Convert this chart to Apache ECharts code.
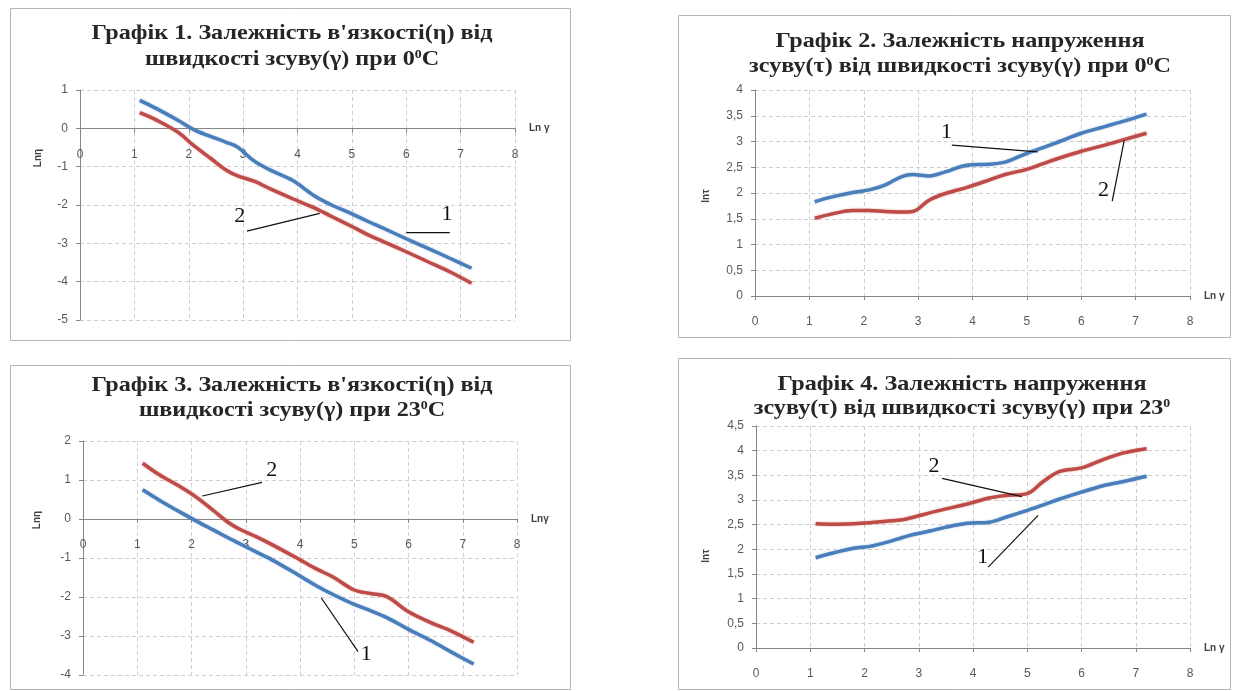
<!DOCTYPE html>
<html><head><meta charset="utf-8">
<script src="https://cdn.jsdelivr.net/npm/echarts@6/dist/echarts.min.js"></script>
<style>html,body{margin:0;padding:0;background:#fff}#c{width:1237px;height:691px}</style>
</head><body><div id="c"></div>
<script>
// ---- data (Ln γ on x) ----
const lnGamma = [1.1,1.4,1.8,2.1,2.4,2.7,2.9,3.2,3.5,3.9,4.3,4.6,5.0,5.3,5.6,6.0,6.4,6.8,7.2];
// Графік 1: Lnη at 0°C
const eta0_1 = [0.73,0.52,0.21,-0.04,-0.21,-0.37,-0.49,-0.85,-1.09,-1.35,-1.75,-1.98,-2.23,-2.43,-2.62,-2.88,-3.13,-3.39,-3.65];
const eta0_2 = [0.41,0.22,-0.10,-0.46,-0.78,-1.10,-1.24,-1.38,-1.58,-1.83,-2.07,-2.28,-2.56,-2.78,-2.97,-3.22,-3.48,-3.74,-4.04];
// Графік 2: lnτ at 0°C
const tau0_1 = [1.83,1.92,2.01,2.06,2.16,2.32,2.36,2.33,2.41,2.54,2.56,2.60,2.77,2.88,3.00,3.16,3.28,3.40,3.53];
const tau0_2 = [1.51,1.59,1.66,1.66,1.64,1.63,1.64,1.86,1.99,2.11,2.25,2.36,2.46,2.57,2.68,2.81,2.92,3.04,3.16];
// Графік 3: Lnη at 23°C
const eta23_1 = [0.75,0.49,0.17,-0.06,-0.28,-0.50,-0.64,-0.85,-1.06,-1.38,-1.71,-1.93,-2.19,-2.35,-2.53,-2.83,-3.11,-3.42,-3.72];
const eta23_2 = [1.43,1.14,0.82,0.55,0.22,-0.11,-0.27,-0.46,-0.67,-0.97,-1.28,-1.48,-1.82,-1.91,-1.99,-2.38,-2.65,-2.88,-3.16];
// Графік 4: lnτ at 23°C
const tau23_1 = [1.83,1.92,2.02,2.06,2.14,2.24,2.30,2.37,2.45,2.53,2.55,2.65,2.79,2.90,3.02,3.16,3.29,3.38,3.48];
const tau23_2 = [2.52,2.51,2.52,2.54,2.57,2.60,2.65,2.74,2.82,2.92,3.04,3.09,3.13,3.38,3.58,3.65,3.82,3.96,4.04];

const titles = [
  ["Графік 1. Залежність в'язкості(η) від", "швидкості зсуву(γ) при 0{s|0}C"],
  ["Графік 2. Залежність напруження", "зсуву(τ) від швидкості зсуву(γ) при 0{s|0}C"],
  ["Графік 3. Залежність в'язкості(η) від", "швидкості зсуву(γ) при 23{s|0}C"],
  ["Графік 4. Залежність напруження", "зсуву(τ) від швидкості зсуву(γ) при 23{s|0}"]
];
const xNames = ["Ln γ", "Ln γ", "Lnγ", "Ln γ"];
const yNames = ["Lnη", "lnτ", "Lnη", "lnτ"];
const yRanges = [[-5,1,1],[0,4,0.5],[-4,2,1],[0,4.5,0.5]];
const seriesSets = [[eta0_1, eta0_2],[tau0_1, tau0_2],[eta23_1, eta23_2],[tau23_1, tau23_2]];
// annotation leaders (data coords): label, label pos, line from, line to
const notes = [
  [["2",[2.94,-2.30],[3.07,-2.68],[4.41,-2.22]], ["1",[6.75,-2.25],[6.0,-2.72],[6.8,-2.72]]],
  [["1",[3.52,3.18],[3.62,2.93],[5.2,2.80]], ["2",[6.41,2.05],[6.57,1.84],[6.79,3.02]]],
  [["2",[3.48,1.26],[2.2,0.59],[3.3,0.94]], ["1",[5.22,-3.46],[4.39,-2.02],[5.07,-3.40]]],
  [["2",[3.28,3.68],[3.43,3.44],[4.9,3.07]], ["1",[4.18,1.84],[4.28,1.64],[5.2,2.69]]]
];

// ---- layout ----
const grids = [
  {left:80, top:90, width:435, height:230},
  {left:755, top:90, width:435, height:206},
  {left:83, top:441, width:434, height:234},
  {left:756, top:426, width:434, height:222}
];
const boxes = [[10,8,560,332],[678,15,552,322],[10,365,560,324],[678,358,552,331]];
const titlePos = [[292,34,60],[960,42,67],[292,386,411],[962,385,409]];
const yNamePos = [[38,158],[706,196],[37,520],[706,556]];
const BLUE = '#4A7EBB', RED = '#BE4B48';
const fmt = v => String(v).replace('.', ',');

const chart = echarts.init(document.getElementById('c'), null, {renderer:'canvas'});
const xAxis = [], yAxis = [], series = [];
grids.forEach((g, i) => {
  const [ymin, ymax] = yRanges[i];
  const zeroOffset = (ymin < 0 && ymax > 0) ? -g.height * (0 - ymin) / (ymax - ymin) : 0;
  xAxis.push({
    type:'value', gridIndex:i, min:0, max:8, interval:1, offset: zeroOffset,
    name: xNames[i], nameLocation:'end', nameGap:14,
    nameTextStyle:{fontFamily:'Liberation Sans', fontWeight:'bold', fontSize:10, color:'#404040'},
    axisLine:{show:true, onZero:false, lineStyle:{color:'#868686', width:1}},
    axisTick:{show:true, length:4, lineStyle:{color:'#868686'}},
    axisLabel:{margin:20, fontFamily:'Liberation Sans', fontSize:12, color:'#595959'},
    splitLine:{show:true, lineStyle:{color:'#cfcfcf', type:[4,3], width:1}}
  });
  yAxis.push({
    type:'value', gridIndex:i, min:ymin, max:ymax, interval:yRanges[i][2],
    axisLine:{show:true, onZero:false, lineStyle:{color:'#868686', width:1}},
    axisTick:{show:true, length:4, lineStyle:{color:'#868686'}},
    axisLabel:{margin:12, fontFamily:'Liberation Sans', fontSize:12, color:'#595959', formatter:fmt},
    splitLine:{show:true, lineStyle:{color:'#cfcfcf', type:[4,3], width:1}}
  });
  seriesSets[i].forEach((arr, k) => {
    series.push({
      type:'line', xAxisIndex:i, yAxisIndex:i, smooth:0.35, showSymbol:false, silent:true,
      data: lnGamma.map((x, j) => [x, arr[j]]),
      lineStyle:{color: k === 0 ? BLUE : RED, width:3.5, shadowBlur:2, shadowColor: k === 0 ? 'rgba(74,126,187,0.5)' : 'rgba(190,75,72,0.5)'},
      z: k === 0 ? 3 : 2
    });
  });
});

chart.setOption({
  animation:false,
  grid: grids.map(g => Object.assign({containLabel:false, outerBoundsMode:'none'}, g)),
  xAxis, yAxis, series
});

const graphic = [];
boxes.forEach(b => graphic.push({type:'rect', shape:{x:b[0]+0.5, y:b[1]+0.5, width:b[2], height:b[3]}, style:{fill:'none', stroke:'#b5b5b5', lineWidth:1}, z:-1}));
titles.forEach((t, i) => {
  const p = titlePos[i];
  [p[1], p[2]].forEach((yy, li) => graphic.push({type:'text', x:p[0], y:yy, scaleX:1.15,
    style:{text:t[li], font:'bold 21px "Liberation Serif"', fill:'#262626', textAlign:'center', textVerticalAlign:'middle',
      rich:{s:{font:'bold 12px "Liberation Serif"', fill:'#262626', verticalAlign:'top', padding:[0,0,10,0]}}}}));
});
yNames.forEach((n, i) => graphic.push({type:'text', x:yNamePos[i][0], y:yNamePos[i][1], rotation:Math.PI/2,
  style:{text:n, font:'bold 10px "Liberation Sans"', fill:'#404040', textAlign:'center', textVerticalAlign:'middle'}}));
notes.forEach((ns, i) => ns.forEach(n => {
  const tp = chart.convertToPixel({gridIndex:i}, n[1]);
  const a = chart.convertToPixel({gridIndex:i}, n[2]);
  const b = chart.convertToPixel({gridIndex:i}, n[3]);
  graphic.push({type:'line', shape:{x1:a[0], y1:a[1], x2:b[0], y2:b[1]}, style:{stroke:'#111', lineWidth:1.2}, z:10});
  graphic.push({type:'text', x:tp[0], y:tp[1], z:10,
    style:{text:n[0], font:'22px "Liberation Serif"', fill:'#111', textAlign:'center', textVerticalAlign:'middle'}});
}));
chart.setOption({graphic});
</script></body></html>
